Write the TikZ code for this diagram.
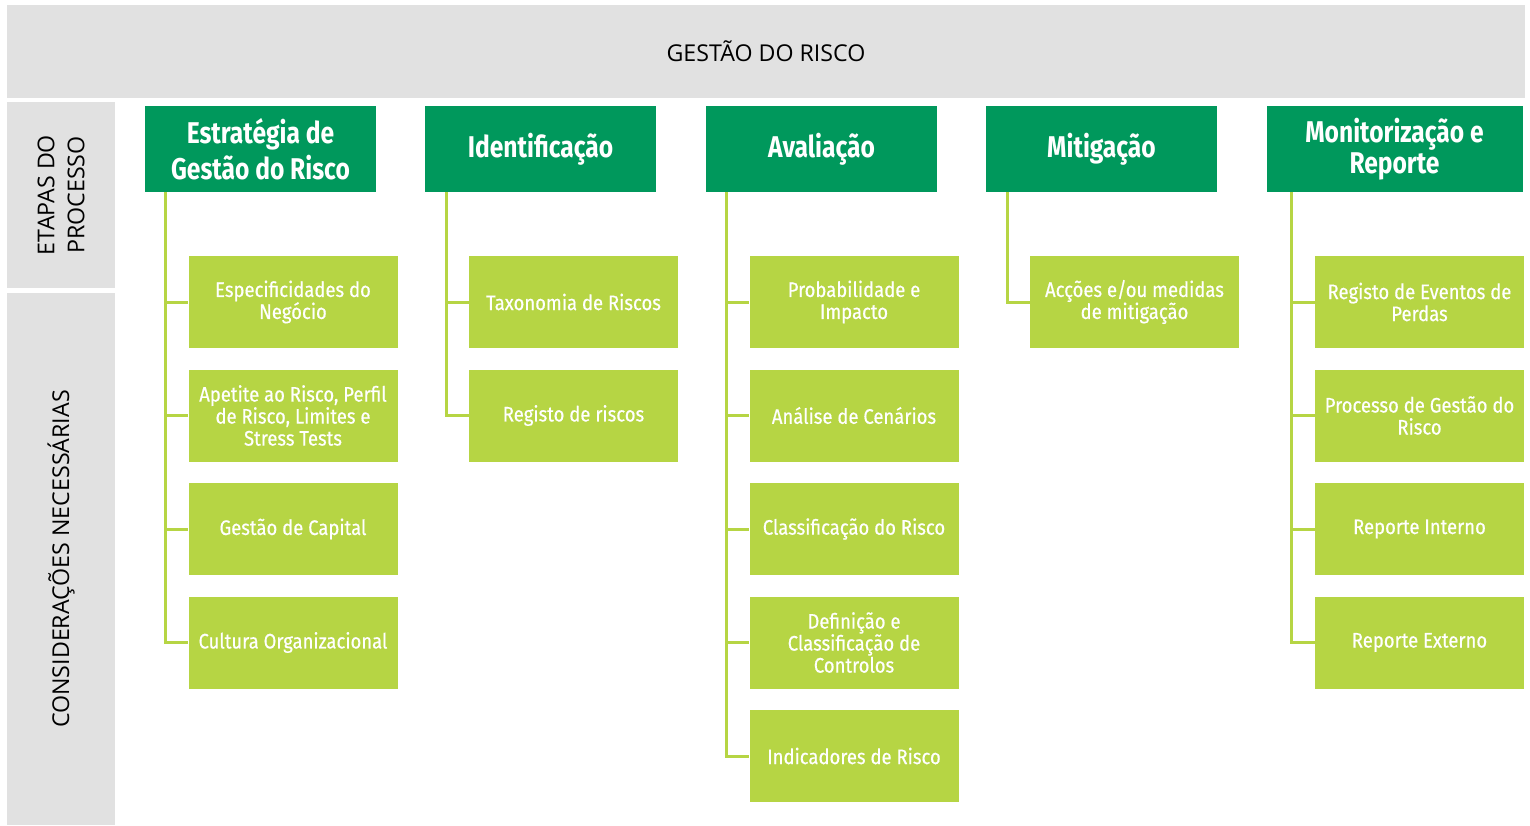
\documentclass[tikz,border=0pt]{standalone}
\usepackage{fontspec}
\setmainfont{Open Sans}
\newfontfamily\condfont[FakeStretch=0.82]{Fira Sans}
\newfontfamily\caixafont[FakeStretch=0.88,FakeBold=0.5]{Fira Sans}
\definecolor{verdeescuro}{RGB}{0,152,92}
\definecolor{verdeclaro}{RGB}{182,213,68}
\definecolor{cinza}{RGB}{225,225,225}
\tikzset{
  faixa/.style={fill=cinza, inner sep=0pt, font=\fontsize{11.6}{15}\selectfont},
  etapa/.style={fill=verdeescuro, text=white, inner sep=0pt, align=center,
    minimum width=115.5pt, minimum height=43pt,
    font=\condfont\bfseries\fontsize{15}{18}\selectfont},
  consid/.style={fill=verdeclaro, text=white, inner sep=0pt, align=center,
    minimum width=104.5pt, minimum height=46pt,
    font=\caixafont\fontsize{10.5}{11}\selectfont},
  ligacao/.style={draw=verdeclaro, line width=1.5pt},
}
\begin{document}
\begin{tikzpicture}[x=0.5pt,y=-0.5pt]
            \useasboundingbox (0,0) rectangle (1530,825);

            % Faixas cinzentas
            \node[faixa, minimum width=759pt, minimum height=46.5pt] (titulo) at (766,51.5) {GESTÃO DO RISCO};
            \node[faixa, rotate=90, align=center, minimum width=93pt, minimum height=54pt] (etapas) at (61,195) {ETAPAS DO\\PROCESSO};
            \node[faixa, rotate=90, minimum width=266pt, minimum height=54pt] (consideracoes) at (61,559) {CONSIDERAÇÕES NECESSÁRIAS};

            % Etapas do processo
            \node[etapa] (e1) at (260.5,149) {Estratégia de\\Gestão do Risco};
            \node[etapa] (e2) at (540.5,149) {Identificação};
            \node[etapa] (e3) at (821.5,149) {Avaliação};
            \node[etapa] (e4) at (1101.5,149) {Mitigação};
            \node[etapa, minimum width=128pt, font=\condfont\bfseries\fontsize{15}{13.5}\selectfont] (e5) at (1394.5,149) {Monitorização e\\Reporte};

            % Considerações - coluna 1
            \node[consid] (c11) at (293,302) {Especificidades do\\Negócio};
            \node[consid] (c12) at (293,415.5) {Apetite ao Risco, Perfil\\de Risco, Limites e\\Stress Tests};
            \node[consid] (c13) at (293,529) {Gestão de Capital};
            \node[consid] (c14) at (293,642.5) {Cultura Organizacional};

            % Considerações - coluna 2
            \node[consid] (c21) at (573.5,302) {Taxonomia de Riscos};
            \node[consid] (c22) at (573.5,415.5) {Registo de riscos};

            % Considerações - coluna 3
            \node[consid] (c31) at (854,302) {Probabilidade e\\Impacto};
            \node[consid] (c32) at (854,415.5) {Análise de Cenários};
            \node[consid] (c33) at (854,529) {Classificação do Risco};
            \node[consid] (c34) at (854,642.5) {Definição e\\Classificação de\\Controlos};
            \node[consid] (c35) at (854,756) {Indicadores de Risco};

            % Considerações - coluna 4
            \node[consid] (c41) at (1134.5,302) {Acções e/ou medidas\\de mitigação};

            % Considerações - coluna 5
            \node[consid] (c51) at (1419.5,302) {Registo de Eventos de\\Perdas};
            \node[consid] (c52) at (1419.5,415.5) {Processo de Gestão do\\Risco};
            \node[consid] (c53) at (1419.5,529) {Reporte Interno};
            \node[consid] (c54) at (1419.5,642.5) {Reporte Externo};

            % Ligações
            \draw[ligacao] ([xshift=10.5pt]e1.south west) |- (c11.west);
            \draw[ligacao] ([xshift=10.5pt]e1.south west) |- (c12.west);
            \draw[ligacao] ([xshift=10.5pt]e1.south west) |- (c13.west);
            \draw[ligacao] ([xshift=10.5pt]e1.south west) |- (c14.west);
            \draw[ligacao] ([xshift=11pt]e2.south west) |- (c21.west);
            \draw[ligacao] ([xshift=11pt]e2.south west) |- (c22.west);
            \draw[ligacao] ([xshift=10.5pt]e3.south west) |- (c31.west);
            \draw[ligacao] ([xshift=10.5pt]e3.south west) |- (c32.west);
            \draw[ligacao] ([xshift=10.5pt]e3.south west) |- (c33.west);
            \draw[ligacao] ([xshift=10.5pt]e3.south west) |- (c34.west);
            \draw[ligacao] ([xshift=10.5pt]e3.south west) |- (c35.west);
            \draw[ligacao] ([xshift=11pt]e4.south west) |- (c41.west);
            \draw[ligacao] ([xshift=12.5pt]e5.south west) |- (c51.west);
            \draw[ligacao] ([xshift=12.5pt]e5.south west) |- (c52.west);
            \draw[ligacao] ([xshift=12.5pt]e5.south west) |- (c53.west);
            \draw[ligacao] ([xshift=12.5pt]e5.south west) |- (c54.west);
        \end{tikzpicture}
\end{document}
